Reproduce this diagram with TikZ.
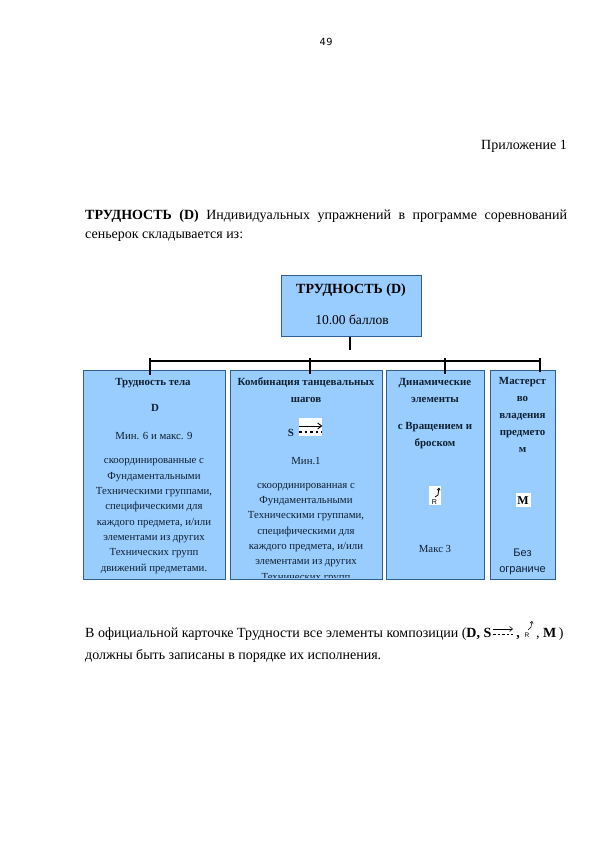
\documentclass[tikz,border=0pt]{standalone}
\usetikzlibrary{arrows.meta}
\usepackage{fontspec}
\setmainfont{Liberation Serif}
\newfontfamily\sansf{Liberation Sans}
\newfontfamily\pagef{DejaVu Sans}
\definecolor{boxblue}{HTML}{99CCFF}
\definecolor{boxedge}{HTML}{2F5F8F}
\definecolor{inktext}{HTML}{10202F}
\tikzset{
  x=1pt,y=-1pt,
  panel/.style={draw=boxedge,line width=0.9pt,fill=boxblue,rectangle,inner sep=0pt,anchor=north west},
  para/.style={inner sep=0pt,anchor=base,align=center,text=inktext,font=\fontsize{10.8}{15.3}\selectfont},
  head/.style={para,font=\fontsize{10.9}{17}\selectfont\bfseries},
  body/.style={inner sep=0pt,anchor=base west,font=\fontsize{14}{18.5}\selectfont},
  tie/.style={line width=2.2pt,black},
  iconbg/.style={fill=white,draw=none,inner sep=0pt,anchor=north west},
}
\newcommand{\panel}[5]{\node[panel,minimum width=#4pt-#2pt,minimum height=#5pt-#3pt] (#1) at (#2,#3) {};}
\begin{document}
\begin{tikzpicture}
\useasboundingbox (0,0) rectangle (595,842);
\fill[white] (0,0) rectangle (595,842);
\node[inner sep=0pt,anchor=base,font=\pagef\fontsize{9.8}{11}\selectfont] (pageno) at (326,46) {4\kern0.5pt9};
\node[body,anchor=base east] (appendix) at (567,150) {Приложение 1};
\node[body,text width=482pt,align=justify,anchor=north west] (intro) at (85,210) {\textbf{ТРУДНОСТЬ (D)} Индивидуальных упражнений в программе соревнований сеньерок складывается из:};

\panel{top}{281}{275}{421}{336}
\node[inner sep=0pt,anchor=base,font=\fontsize{14}{16}\selectfont\bfseries] (toptitle) at (351,293) {ТРУДНОСТЬ (D)};
\node[inner sep=0pt,anchor=base,font=\fontsize{13.5}{16}\selectfont] (topsub) at (352,324) {10.00 баллов};

\panel{bodybox}{83}{370}{225}{579}
\panel{combo}{230}{370}{382}{579}
\panel{dyn}{386}{370}{484}{579}
\panel{mast}{490}{370}{555}{579}

% connectors
\coordinate (busL) at (150,361);
\coordinate (busR) at (540,361);
\coordinate (busB) at (310,361);
\coordinate (busC) at (445,361);
\coordinate (tickA) at (150,375);
\coordinate (tickB) at (310,374);
\coordinate (tickC) at (445,374);
\coordinate (tickD) at (540,372);
\coordinate (tickE) at (350,350);
\draw[tie] (busL) -- (busR);
\draw[tie] (tickE |- top.south) -- (tickE);
\draw[tie] ([yshift=3pt]busL) -- (tickA);
\draw[tie] ([yshift=3pt]busB) -- (tickB);
\draw[tie] ([yshift=3pt]busC) -- (tickC);
\draw[tie] ([yshift=3pt]busR) -- (tickD);

% panel 1
\node[head] (a1) at (153,385) {Трудность тела};
\node[head] (a2) at (155,411) {D};
\node[para] (a3) at (154,439) {Мин. 6 и макс. 9};
\node[para] (a4) at (154,571) {скоординированные с\\Фундаментальными\\Техническими группами,\\специфическими для\\каждого предмета, и/или\\элементами из других\\Технических групп\\движений предметами.};

% panel 2
\begin{scope}
\clip (230,370) rectangle (382,577);
\node[head] (b1) at (306,402) {Комбинация танцевальных\\шагов};
\node[head] (b2) at (291,436) {S};
\node[iconbg,minimum width=23pt,minimum height=18pt] (b3) at (299,418) {};
\draw[line width=0.9pt,-{Straight Barb[length=4pt,width=6pt]}] (b3.west |- 0,426) -- (b3.east |- 0,426);
\draw[line width=1.1pt,dash pattern=on 2.5pt off 3pt] (b3.west |- 0,432) -- (b3.east |- 0,432);
\node[para] (b4) at (306,464) {Мин.1};
\node[para] (b5) at (306,580) {скоординированная с\\Фундаментальными\\Техническими группами,\\специфическими для\\каждого предмета, и/или\\элементами из других\\Технических групп};
\end{scope}

% panel 3
\node[head] (c1) at (435,402) {Динамические\\элементы};
\node[head] (c2) at (435,446) {с Вращением и\\броском};
\node[iconbg,minimum width=12pt,minimum height=19pt] (c3) at (429,486) {};
\node[inner sep=0pt,anchor=base,font=\sansf\fontsize{7}{8}\selectfont] (c4) at (434.5,504) {R};
\draw[line width=0.8pt,-{Straight Barb[length=2pt,width=3pt]}] (435,497) -- (438,495) -- (439,487.5);
\node[para] (c5) at (435,552) {Макс 3};

% panel 4
\node[head] (d1) at (522.5,452) {Мастерст\\во\\владения\\предмето\\м};
\node[iconbg,minimum width=15pt,minimum height=14pt] (d2) at (515.5,493) {};
\node[inner sep=0pt,anchor=base,font=\fontsize{12}{13}\selectfont\bfseries] (d3) at (523,504) {M};
\node[para,font=\sansf\fontsize{11}{16}\selectfont] (d4) at (522.5,572) {Без\\ограниче};

% closing text
\node[body] (end1) at (85,637) {В официальной карточке Трудности все элементы композиции (\textbf{D, S}};
\node[inner sep=0pt,anchor=base,font=\fontsize{14}{15}\selectfont\bfseries] (end2) at (518,637) {,};
\node[inner sep=0pt,anchor=base,font=\sansf\fontsize{6.5}{7}\selectfont] (end3) at (527,637) {R};
\node[inner sep=0pt,anchor=base west,font=\fontsize{14}{15}\selectfont] (end4) at (536,637) {, \textbf{M}\,)};
\node[body] (end5) at (85,659) {должны быть записаны в порядке их исполнения.};
\draw[line width=0.6pt,-{Straight Barb[length=3pt,width=5pt]}] (493,629) -- (513,629);
\draw[line width=0.6pt,dash pattern=on 2.5pt off 2pt] (493,634) -- (513,634);
\draw[line width=0.5pt,-{Straight Barb[length=2pt,width=3pt]}] (528,630) -- (531,627) -- (532,621);
\end{tikzpicture}
\end{document}
